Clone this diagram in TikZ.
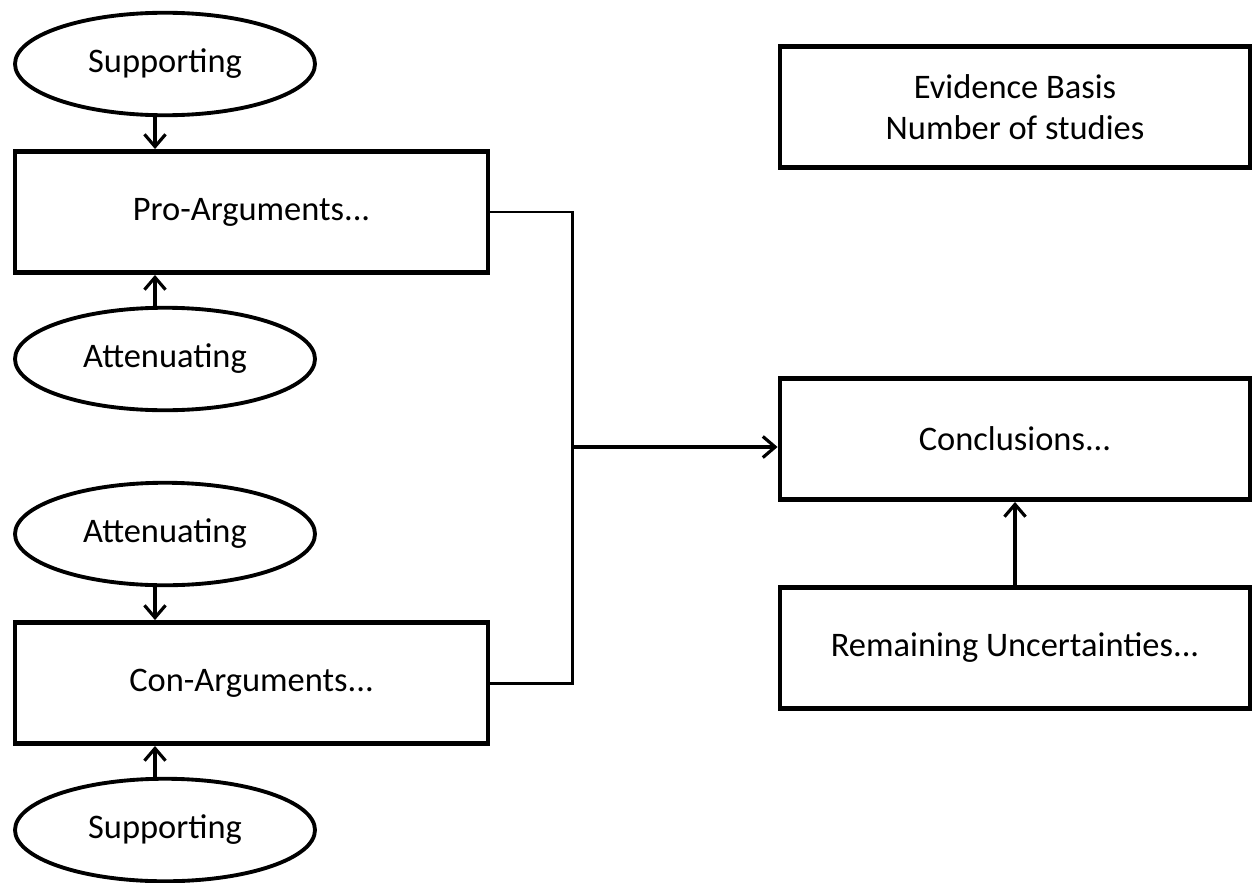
\documentclass[tikz,border=0pt]{standalone}
\usepackage{fontspec}
\setmainfont{Carlito}
\usepackage{tikz}
\usetikzlibrary{
    arrows.meta,
    positioning,
    calc,
    shapes.geometric
}

\begin{document}
\begin{tikzpicture}[
    argbox/.style={
        rectangle,
        draw,
        line width=2.8pt,
        minimum width=9.4cm,
        minimum height=2.42cm,
        align=center,
        font=\fontsize{19.6}{23}\selectfont,
        inner sep=2pt
    },
    factor/.style={
        ellipse,
        draw,
        line width=2.2pt,
        minimum width=6cm,
        minimum height=2.05cm,
        font=\fontsize{19.6}{23}\selectfont,
        inner sep=0pt
    },
    arrow/.style={line width=1.8pt, -{Straight Barb[length=7pt, width=12pt, line width=1.8pt]}},
    link/.style={line width=1.7pt}
]

\useasboundingbox (0,0) rectangle (25.04,-17.64);

% ============================================================
% NODES
% ============================================================

% Pro side
\node[factor] (supTop) at (3.3, -1.28) {Supporting};
\node[argbox, minimum width=9.46cm] (proArg) at (5.03, -4.24) {Pro-Arguments...};
\node[factor] (attTop) at (3.3, -7.18) {Attenuating};

% Con side
\node[factor] (attBot) at (3.3, -10.68) {Attenuating};
\node[argbox, minimum width=9.46cm] (conArg) at (5.03, -13.66) {Con-Arguments...};
\node[factor] (supBot) at (3.3, -16.6) {Supporting};

% Right column
\node[argbox] (evidence) at (20.3, -2.14) {Evidence Basis\\Number of studies};
\node[argbox] (conclusions) at (20.3, -8.78) {Conclusions...};
\node[argbox] (uncertainties) at (20.3, -12.96) {Remaining Uncertainties...};

\coordinate (junction) at (11.44, -8.94);

% ============================================================
% CONNECTIONS
% ============================================================

% Factors -> arguments
\draw[arrow] ([xshift=-2mm]supTop.south) -- ([xshift=-2mm]supTop.south |- proArg.north);
\draw[arrow] ([xshift=-2mm]attTop.north) -- ([xshift=-2mm]attTop.north |- proArg.south);
\draw[arrow] ([xshift=-2mm]attBot.south) -- ([xshift=-2mm]attBot.south |- conArg.north);
\draw[arrow] ([xshift=-2mm]supBot.north) -- ([xshift=-2mm]supBot.north |- conArg.south);

% Arguments -> conclusions
\draw[link] (proArg.east) -| (junction) |- (conArg.east);
\draw[arrow] (junction) -- (junction -| conclusions.west);

% Uncertainties -> conclusions
\draw[arrow] (uncertainties.north) -- (conclusions.south);

\end{tikzpicture}
\end{document}
